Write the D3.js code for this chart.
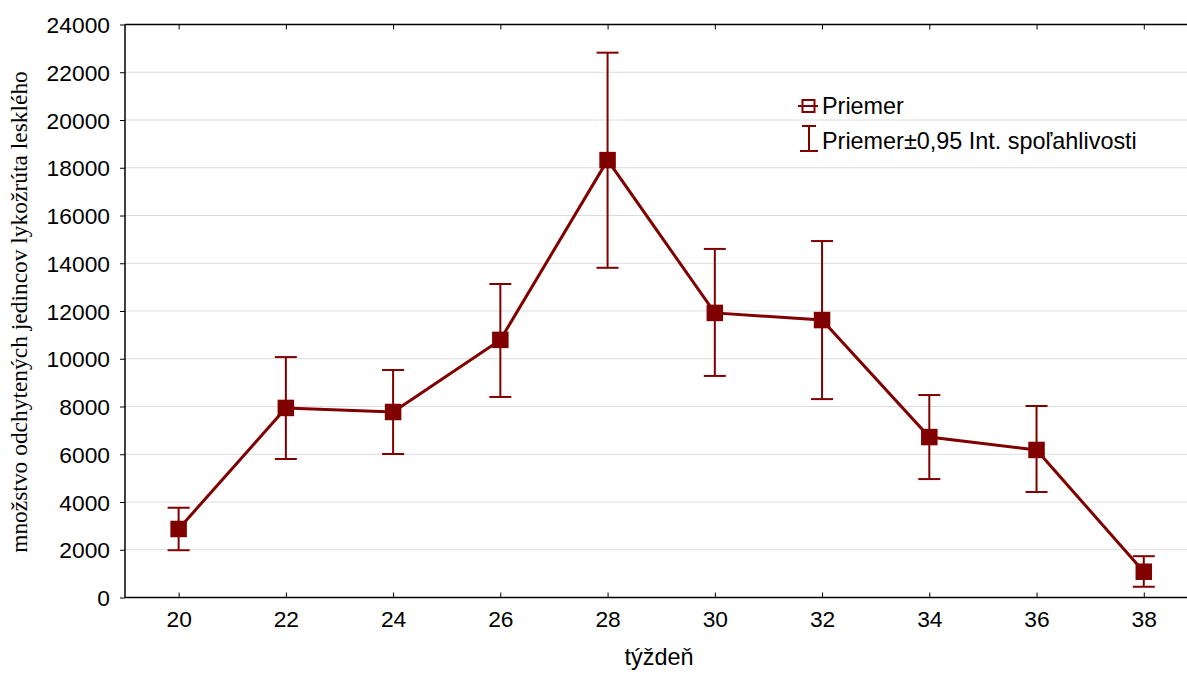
<!DOCTYPE html>
<html><head><meta charset="utf-8">
<script src="https://cdn.jsdelivr.net/npm/d3@7"></script>
<style>body{margin:0;background:#fff}svg{display:block}</style>
</head><body>
<svg id="c" width="1187" height="674"></svg>
<script>
const weeks = [20, 22, 24, 26, 28, 30, 32, 34, 36, 38];
const means = [2870, 7940, 7770, 10790, 18320, 11920, 11620, 6720, 6180, 1080];
const upper = [3760, 10070, 9530, 13130, 22820, 14600, 14930, 8480, 8020, 1730];
const lower = [1980, 5800, 6010, 8400, 13810, 9280, 8310, 4960, 4420, 450];
const xTicks = [20, 22, 24, 26, 28, 30, 32, 34, 36, 38];
const yTicks = [0, 2000, 4000, 6000, 8000, 10000, 12000, 14000, 16000, 18000, 20000, 22000, 24000];
const legendLabels = ["Priemer", "Priemer±0,95 Int. spoľahlivosti"];
const xTitle = "týždeň";
const yTitle = "množstvo odchytených jedincov lykožrúta lesklého";

const color = "#800000";
const svg = d3.select("#c");
const L = 125, T = 24.5, B = 597.5;
const x = d3.scaleLinear().domain([19, 39]).range([L, L + 20 * 53.62]);
const y = d3.scaleLinear().domain([0, 24000]).range([B, T]);
const R = 1187;

// grid
svg.append("g").selectAll("line").data(yTicks.filter(d => d > 0 && d < 24000)).join("line")
  .attr("x1", L).attr("x2", R).attr("y1", d => y(d)).attr("y2", d => y(d))
  .attr("stroke", "#dcdcdc").attr("stroke-width", 1);

// axes
const font = "'Liberation Sans', Arial, sans-serif";
const yAxis = svg.append("g").attr("transform", `translate(${L},0)`)
  .call(d3.axisLeft(y).tickValues(yTicks).tickSize(5).tickPadding(10).tickFormat(d3.format("d")));
yAxis.select(".domain").attr("stroke", "#000").attr("stroke-width", 1.5).attr("d", `M0,${T}V${B}`);
yAxis.selectAll("text").attr("font-family", font).attr("font-size", 22.8).attr("fill", "#000").attr("dy", "0.36em");
yAxis.selectAll(".tick line").attr("stroke", "#000");

const xAxis = svg.append("g").attr("transform", `translate(0,${B})`)
  .call(d3.axisBottom(x).tickValues(xTicks).tickSize(-5).tickPadding(13));
xAxis.select(".domain").attr("stroke", "#000").attr("stroke-width", 1.5).attr("d", `M${L},0H${R}`);
xAxis.selectAll("text").attr("font-family", font).attr("font-size", 22.8).attr("fill", "#000");
xAxis.selectAll(".tick line").attr("stroke", "#000");

const topAxis = svg.append("g").attr("transform", `translate(0,${T})`)
  .call(d3.axisTop(x).tickValues(xTicks).tickSize(-5).tickFormat(""));
topAxis.select(".domain").attr("stroke", "#000").attr("stroke-width", 1.5).attr("d", `M${L},0H${R}`);
topAxis.selectAll(".tick line").attr("stroke", "#000");

// titles
svg.append("text").attr("x", 659).attr("y", 665).attr("text-anchor", "middle")
  .attr("font-family", font).attr("font-size", 23.4).text(xTitle);
const yt = svg.append("text").attr("transform", `translate(27,312) rotate(-90)`)
  .attr("text-anchor", "middle").attr("font-family", "'Liberation Serif', 'Times New Roman', serif")
  .attr("font-size", 20).text(yTitle);
const len = yt.node().getComputedTextLength();
if (len > 0) yt.attr("font-size", 20 * 482 / len);

const data = weeks.map((w, i) => ({w, m: means[i], u: upper[i], l: lower[i]}));

// error bars
const eb = svg.append("g").attr("stroke", color).attr("stroke-width", 2);
const cap = 11;
eb.selectAll(".v").data(data).join("line").attr("class", "v")
  .attr("x1", d => x(d.w)).attr("x2", d => x(d.w)).attr("y1", d => y(d.u)).attr("y2", d => y(d.l));
eb.selectAll(".t").data(data).join("line").attr("class", "t")
  .attr("x1", d => x(d.w) - cap).attr("x2", d => x(d.w) + cap).attr("y1", d => y(d.u)).attr("y2", d => y(d.u));
eb.selectAll(".b").data(data).join("line").attr("class", "b")
  .attr("x1", d => x(d.w) - cap).attr("x2", d => x(d.w) + cap).attr("y1", d => y(d.l)).attr("y2", d => y(d.l));

// line
svg.append("path").datum(data)
  .attr("d", d3.line().x(d => x(d.w)).y(d => y(d.m)))
  .attr("fill", "none").attr("stroke", color).attr("stroke-width", 3);

// markers
const s = 16.5;
svg.append("g").selectAll("rect").data(data).join("rect")
  .attr("x", d => x(d.w) - s / 2).attr("y", d => y(d.m) - s / 2)
  .attr("width", s).attr("height", s).attr("fill", color);

// legend
const lg = svg.append("g");
lg.append("line").attr("x1", 798).attr("x2", 818).attr("y1", 106).attr("y2", 106).attr("stroke", color).attr("stroke-width", 2);
lg.append("rect").attr("x", 802.5).attr("y", 100).attr("width", 12).attr("height", 12).attr("fill", "#fff").attr("stroke", color).attr("stroke-width", 2);
lg.append("line").attr("x1", 802.5).attr("x2", 814.5).attr("y1", 106).attr("y2", 106).attr("stroke", color).attr("stroke-width", 2);
lg.append("text").attr("x", 822).attr("y", 114).attr("font-family", font).attr("font-size", 23.4).text(legendLabels[0]);
lg.append("line").attr("x1", 809).attr("x2", 809).attr("y1", 126).attr("y2", 151).attr("stroke", color).attr("stroke-width", 2);
lg.append("line").attr("x1", 802).attr("x2", 816).attr("y1", 126).attr("y2", 126).attr("stroke", color).attr("stroke-width", 2);
lg.append("line").attr("x1", 800).attr("x2", 818).attr("y1", 151).attr("y2", 151).attr("stroke", color).attr("stroke-width", 2);
lg.append("text").attr("x", 822).attr("y", 149).attr("font-family", font).attr("font-size", 23.4).text(legendLabels[1]);
</script>
</body></html>
